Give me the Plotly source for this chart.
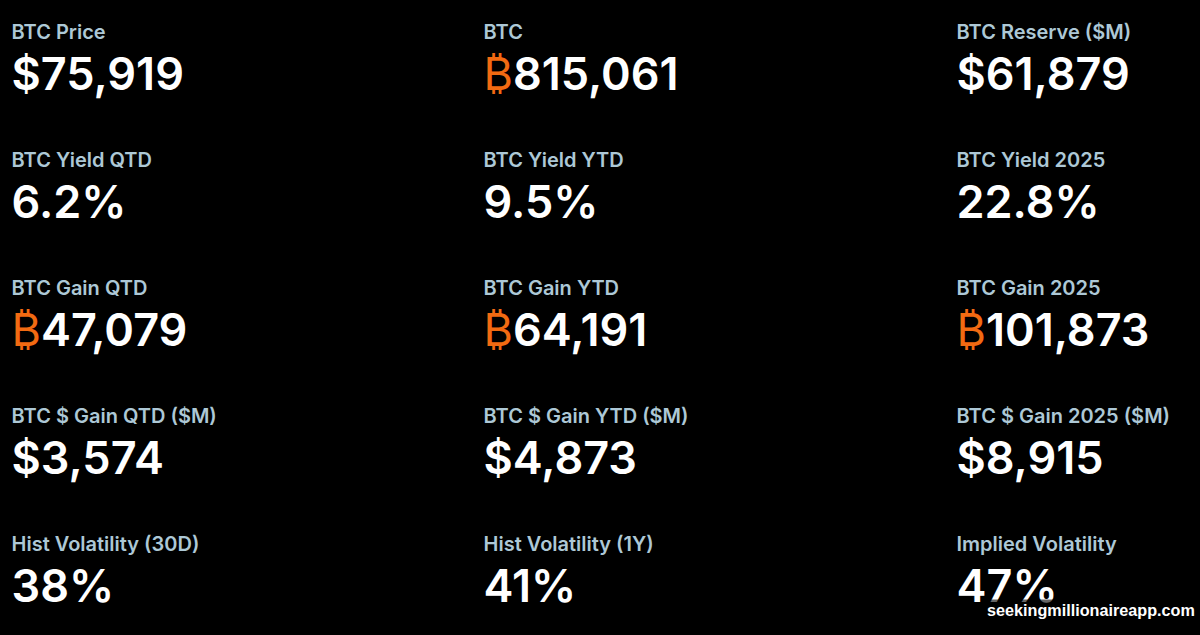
import plotly.graph_objects as go

# Labels and values by column, top to bottom
labels_left = ["BTC Price", "BTC Yield QTD", "BTC Gain QTD", "BTC $ Gain QTD ($M)", "Hist Volatility (30D)"]
values_left = ["$75,919", "6.2%", "₿47,079", "$3,574", "38%"]

labels_mid = ["BTC", "BTC Yield YTD", "BTC Gain YTD", "BTC $ Gain YTD ($M)", "Hist Volatility (1Y)"]
values_mid = ["₿815,061", "9.5%", "₿64,191", "$4,873", "41%"]

labels_right = ["BTC Reserve ($M)", "BTC Yield 2025", "BTC Gain 2025", "BTC $ Gain 2025 ($M)", "Implied Volatility"]
values_right = ["$61,879", "22.8%", "₿101,873", "$8,915", "47%"]

columns = [(11.5, labels_left, values_left), (483.5, labels_mid, values_mid), (956.5, labels_right, values_right)]
label_y = [34, 162, 290, 418, 546]
value_y = [79, 207, 335, 463, 591]

ORANGE = "#f26a12"


def color_btc(text):
    # the bitcoin sign is orange and thinner, digits stay white
    return text.replace("₿", f'<span style="color:{ORANGE};font-weight:400">₿</span>')


fig = go.Figure()
for x, labels, values in columns:
    fig.add_trace(go.Scatter(
        x=[x] * 5, y=label_y, text=labels, mode="text", textposition="middle right",
        textfont=dict(family="Inter", size=20, color="#adc8d6", weight=600),
        hoverinfo="skip", cliponaxis=False,
    ))
    fig.add_trace(go.Scatter(
        x=[x] * 5, y=value_y, text=[color_btc(v) for v in values], mode="text", textposition="middle right",
        textfont=dict(family="Inter", size=45, color="white", weight=600),
        hoverinfo="skip", cliponaxis=False,
    ))

fig.update_layout(
    width=1200, height=635, margin=dict(l=0, r=0, t=0, b=0),
    paper_bgcolor="black", plot_bgcolor="black", showlegend=False,
    xaxis=dict(range=[0, 1200], visible=False, fixedrange=True),
    yaxis=dict(range=[635, 0], visible=False, fixedrange=True),
)

# watermark in the corner
fig.add_annotation(
    x=1197, y=610, xref="x", yref="y", xanchor="right", yanchor="middle", showarrow=False,
    text="<b>seekingmillionaireapp.com</b>",
    font=dict(family="Liberation Sans", size=16.2, color="white"),
    bgcolor="rgba(0,0,0,0.6)",
)

# drop the page's default margin so the figure fills the window
fig.write_html(
    "out.html",
    config={"displayModeBar": False},
    post_script="document.body.style.margin='0';document.body.style.background='black';",
)
